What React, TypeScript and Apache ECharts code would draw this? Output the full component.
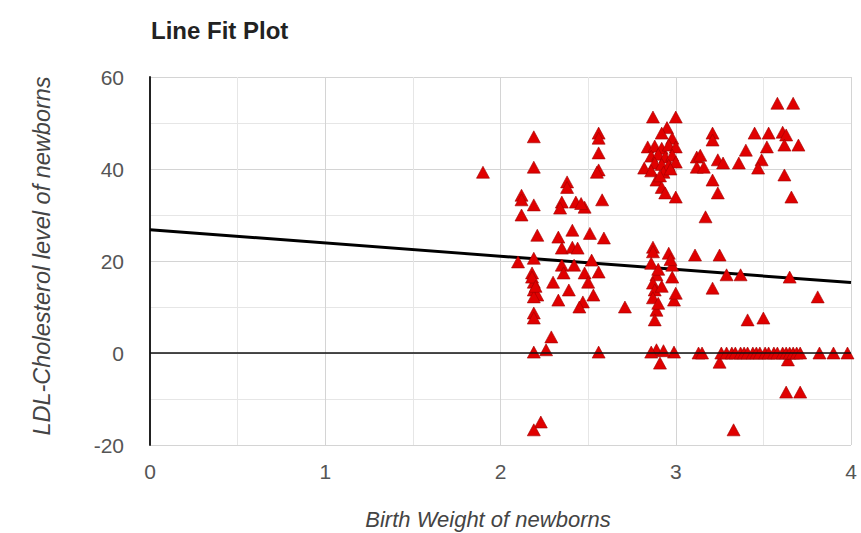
import React, { useEffect, useRef } from "react";
import * as echarts from "echarts";

const chartTitle = "Line Fit Plot";
const xAxisName = "Birth Weight of newborns";
const yAxisName = "LDL-Cholesterol level of newborns";

const birthWeight = [
  1.90, 2.12, 2.12, 2.12, 2.19, 2.19, 2.19, 2.38, 2.38, 2.35, 2.34, 2.43, 2.48, 2.46, 2.58, 2.56, 2.56, 2.56, 2.56, 2.55,
  2.21, 2.33, 2.41, 2.51, 2.59, 2.35, 2.41, 2.44, 2.10, 2.19, 2.35, 2.52, 2.18, 2.19, 2.30, 2.36, 2.42, 2.48, 2.50, 2.56,
  2.19, 2.21, 2.19, 2.33, 2.39, 2.47, 2.45, 2.53, 2.71, 2.19, 2.19, 2.29, 2.19, 2.26, 2.56, 2.23, 2.19, 2.18, 2.20,
  2.87, 3.00, 2.95, 2.92, 2.98, 2.84, 2.88, 2.92, 2.96, 3.00, 2.86, 2.90, 2.94, 2.98, 2.88, 2.92, 2.96, 3.00, 2.82, 2.86,
  2.93, 2.97, 2.89, 2.92, 2.94, 3.00, 2.91, 3.12, 3.12,
  2.87, 2.87, 2.96, 2.86, 2.98, 2.89, 2.98, 2.87, 2.88, 2.99, 2.87, 2.89, 2.88, 2.89, 2.99, 2.91, 2.86, 2.93, 2.90, 2.92,
  2.90, 3.00, 2.97,
  3.58, 3.67, 3.21, 3.21, 3.45, 3.53, 3.61, 3.63, 3.14, 3.16, 3.24, 3.27, 3.36, 3.40, 3.52, 3.49, 3.47, 3.62, 3.70, 3.62,
  3.21, 3.24, 3.66, 3.17, 3.11, 3.25, 3.29, 3.37, 3.65, 3.21, 3.81, 3.41, 3.50, 3.25, 3.64,
  3.13, 3.15, 3.26, 3.29, 3.32, 3.34, 3.37, 3.39, 3.41, 3.44, 3.46, 3.48, 3.51, 3.53, 3.56, 3.58, 3.61, 3.63, 3.65, 3.67,
  3.69, 3.71, 3.82, 3.90, 3.98,
  3.63, 3.71, 3.33,
];

const ldlCholesterol = [
  39.3, 34.3, 33.3, 30.0, 32.2, 47.0, 40.4, 37.2, 36.0, 32.8, 31.5, 32.8, 31.7, 32.5, 33.3, 47.8, 46.7, 43.5, 39.8, 39.3,
  25.6, 25.2, 26.7, 26.0, 25.0, 22.8, 23.0, 22.8, 19.8, 20.6, 19.1, 20.2, 17.4, 15.4, 15.4, 17.4, 19.1, 17.4, 15.4, 17.6,
  13.7, 12.6, 12.2, 11.5, 13.7, 11.1, 10.0, 12.6, 10.0, 8.7, 7.6, 3.5, 0.2, 0.7, 0.2, -15.0, -16.7, 16.5, 14.5,
  51.3, 51.3, 49.0, 47.8, 46.7, 44.8, 45.0, 44.5, 45.2, 44.8, 42.8, 43.2, 42.6, 43.0, 41.3, 41.0, 40.8, 41.5, 40.2, 39.6,
  39.3, 40.0, 37.6, 36.0, 34.8, 33.9, 38.5, 42.6, 40.4,
  23.0, 22.0, 21.7, 19.5, 19.1, 17.0, 16.5, 15.2, 13.7, 11.5, 12.0, 9.3, 7.2, 0.7, 0.2, -2.2, 0.2, 0.5, 18.2, 14.5,
  10.8, 13.0, 20.3,
  54.3, 54.3, 47.8, 46.3, 47.8, 47.8, 48.0, 47.4, 43.0, 40.4, 42.0, 41.3, 41.3, 44.1, 44.8, 42.0, 40.2, 45.2, 45.2, 38.7,
  37.6, 34.8, 33.9, 29.6, 21.3, 21.3, 17.0, 17.0, 16.5, 14.1, 12.2, 7.2, 7.6, -2.0, -1.5,
  0, 0, 0, 0, 0, 0, 0, 0, 0, 0, 0, 0, 0, 0, 0, 0, 0, 0, 0, 0,
  0, 0, 0, 0, 0,
  -8.5, -8.5, -16.7,
];

const fitX = [0, 4];
const fitY = [26.8, 15.3];

const xTicks = [0, 1, 2, 3, 4];
const yTicks = [-20, 0, 20, 40, 60];

export default function App() {
  const ref = useRef<HTMLDivElement>(null);
  useEffect(() => {
    if (!ref.current) return;
    const chart = echarts.init(ref.current, undefined, { renderer: "svg" });
    const font = "'Liberation Sans', Arial, sans-serif";
    chart.setOption({
      animation: false,
      textStyle: { fontFamily: font },
      title: {
        text: chartTitle,
        left: 146,
        top: 13,
        textStyle: { fontSize: 24, fontWeight: "bold", color: "#222", fontFamily: font },
      },
      grid: { left: 150, right: 10, top: 77, bottom: 88, containLabel: false, outerBoundsMode: "none" },
      xAxis: {
        type: "value",
        min: xTicks[0],
        max: xTicks[xTicks.length - 1],
        interval: 1,
        name: xAxisName,
        nameLocation: "middle",
        nameGap: 63,
        nameTextStyle: { fontSize: 22, fontStyle: "italic", color: "#444", fontFamily: font, padding: [0, 25, 0, 0] },
        axisLine: { show: false, onZero: false },
        axisTick: { show: false },
        axisLabel: { fontSize: 21, color: "#555", margin: 16, fontFamily: font },
        splitLine: { show: true, lineStyle: { color: "#d4d4d4", width: 1 } },
        minorTick: { show: false, splitNumber: 2 },
        minorSplitLine: { show: true, lineStyle: { color: "#e6e6e6", width: 1 } },
      },
      yAxis: {
        type: "value",
        min: yTicks[0],
        max: yTicks[yTicks.length - 1],
        interval: 20,
        name: yAxisName,
        nameLocation: "middle",
        nameGap: 97,
        nameTextStyle: { fontSize: 23.5, fontStyle: "italic", color: "#444", fontFamily: font, padding: [0, 0, 0, 10] },
        axisLine: { show: true, lineStyle: { color: "#222", width: 2 } },
        axisTick: { show: false },
        axisLabel: { fontSize: 21, color: "#555", margin: 26, fontFamily: font },
        splitLine: { show: true, lineStyle: { color: "#d4d4d4", width: 1 } },
        minorTick: { show: false, splitNumber: 2 },
        minorSplitLine: { show: true, lineStyle: { color: "#e6e6e6", width: 1 } },
      },
      series: [
        {
          type: "line",
          data: fitX.map((x, i) => [x, fitY[i]]),
          symbol: "none",
          lineStyle: { color: "#000", width: 3 },
          z: 3,
          markLine: {
            silent: true,
            symbol: "none",
            label: { show: false },
            lineStyle: { color: "#111", width: 1.5, type: "solid" },
            data: [{ yAxis: 0 }],
          },
        },
        {
          type: "scatter",
          data: birthWeight.map((x, i) => [x, ldlCholesterol[i]]),
          symbol: "triangle",
          symbolSize: [13, 12],
          itemStyle: { color: "#e00000", borderColor: "#a00000", borderWidth: 0.6, opacity: 1 },
          z: 4,
        },
      ],
    });
    return () => chart.dispose();
  }, []);
  return <div ref={ref} style={{ width: 861, height: 533, position: "absolute", left: 0, top: 0 }} />;
}
